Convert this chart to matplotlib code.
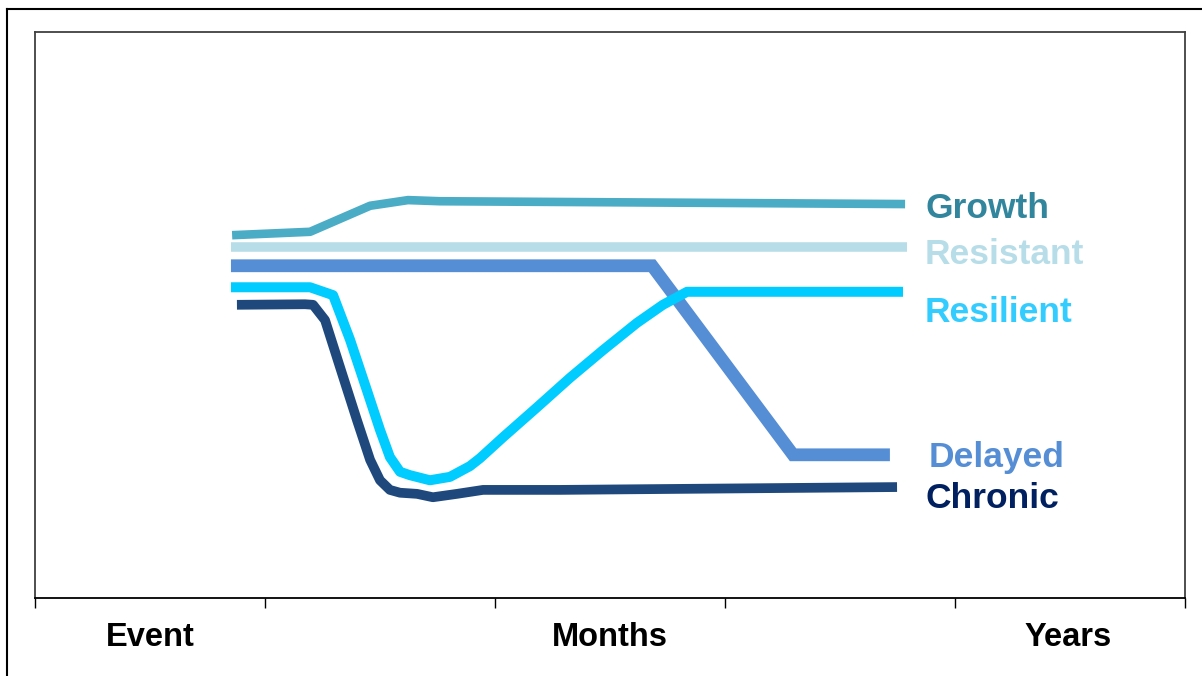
import matplotlib.pyplot as plt
from matplotlib.lines import Line2D
import matplotlib.transforms as mtransforms

plt.rcParams['font.family'] = ['Liberation Sans', 'DejaVu Sans']

# x in tick intervals (Event .. Years), y as level 0-100
growth_x = [0.857, 1.196, 1.457, 1.622, 1.761, 3.783]
growth_y = [64.1, 64.7, 69.3, 70.3, 70.1, 69.6]

resistant_x = [0.852, 3.791]
resistant_y = [62.0, 62.0]

delayed_x = [0.852, 2.683, 3.296, 3.717]
delayed_y = [58.7, 58.7, 25.3, 25.3]

resilient_x = [0.852, 1.196, 1.296, 1.370, 1.443, 1.5, 1.543, 1.587, 1.630, 1.717,
               1.804, 1.891, 1.935, 2.035, 2.183, 2.326, 2.470, 2.617, 2.730, 2.835, 3.774]
resilient_y = [54.9, 54.9, 53.5, 45.6, 36.7, 29.7, 24.9, 22.3, 21.7, 20.8,
               21.4, 23.3, 24.7, 28.4, 33.7, 38.9, 43.8, 48.6, 51.8, 54.1, 54.1]

chronic_x = [0.878, 1.174, 1.209, 1.261, 1.326, 1.4, 1.457, 1.5, 1.543, 1.587,
             1.661, 1.730, 1.835, 1.948, 2.283, 3.748]
chronic_y = [51.8, 51.9, 51.8, 49.1, 40.8, 31.4, 24.4, 20.8, 19.1, 18.6,
             18.4, 17.8, 18.4, 19.1, 19.1, 19.6]

labels = ['Growth', 'Resistant', 'Resilient', 'Delayed', 'Chronic']
label_x = [3.87, 3.87, 3.87, 3.887, 3.87]
label_y = [67.1, 59.0, 48.8, 23.1, 15.9]
label_colors = ['#31859C', '#B7DDE8', '#33CCFF', '#558ED5', '#002060']

phases = ['Event', 'Months', 'Years']
phase_x = [0.5, 2.5, 4.49]

fig = plt.figure(figsize=(12.02, 6.76), dpi=100)
ax = fig.add_axes([35 / 1202, 1 - 598 / 676, 1150 / 1202, 566 / 676])

kw = dict(solid_capstyle='butt', solid_joinstyle='round')
ax.plot(growth_x, growth_y, color='#4BACC6', lw=6.2, **kw)
ax.plot(resistant_x, resistant_y, color='#B7DDE8', lw=6.9, **kw)
ax.plot(delayed_x, delayed_y, color='#558ED5', lw=9.2, solid_capstyle='butt', solid_joinstyle='miter')
ax.plot(resilient_x, resilient_y, color='#00CCFF', lw=7.2, **kw)
ax.plot(chronic_x, chronic_y, color='#1F497D', lw=7.0, **kw)

for t, x, y, c in zip(labels, label_x, label_y, label_colors):
    ax.text(x, y, t, color=c, fontsize=25.5, fontweight='bold', ha='left', va='baseline')

ax.set_xlim(0, 5)
ax.set_ylim(0, 100)
ax.set_xticks(range(6))
ax.set_xticklabels([])
ax.set_yticks([])
ax.tick_params(axis='x', direction='out', length=7, width=1, color='black')
for s in ax.spines.values():
    s.set_color('#404040')
    s.set_linewidth(1.3)
ax.spines['bottom'].set_color('black')

trans = mtransforms.blended_transform_factory(ax.transData, ax.transAxes)
for t, x in zip(phases, phase_x):
    ax.text(x, -0.0848, t, transform=trans, fontsize=23.5, fontweight='bold',
            ha='center', va='baseline', color='black')

# outer frame (cut off at right and bottom)
fx = 7 / 1202
fy = 1 - 9 / 676
fig.add_artist(Line2D([fx, fx], [0, fy], transform=fig.transFigure, color='black', lw=1.5))
fig.add_artist(Line2D([fx, 1], [fy, fy], transform=fig.transFigure, color='black', lw=1.5))

fig.savefig('out.png', dpi=100)
